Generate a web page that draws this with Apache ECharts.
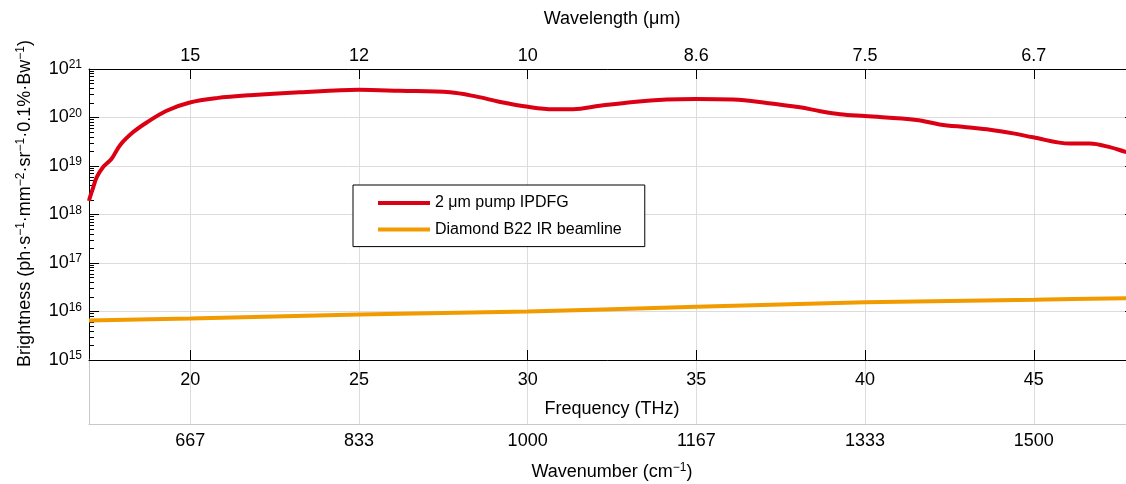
<!DOCTYPE html>
<html>
<head>
<meta charset="utf-8">
<script src="https://cdn.jsdelivr.net/npm/echarts@6/dist/echarts.min.js"></script>
<style>
html,body{margin:0;padding:0;background:#fff;}
#chart{width:1126px;height:484px;}
</style>
</head>
<body>
<div id="chart"></div>
<script>
// ---- data ----
const freqTicks = [20, 25, 30, 35, 40, 45];
const wavelengthLabels = ['15', '12', '10', '8.6', '7.5', '6.7'];
const wavenumberLabels = ['667', '833', '1000', '1167', '1333', '1500'];
const yExponents = [15, 16, 17, 18, 19, 20, 21];

const ipdfgFreq = [17.0, 17.03, 17.13, 17.23, 17.42, 17.67, 17.92, 18.31, 18.71, 19.3, 19.99, 20.78, 21.77, 23.25, 25.0, 26.21, 27.7, 28.49, 29.19, 30.01, 30.76, 31.35, 32.14, 33.13, 34.12, 34.99, 36.09, 37.08, 38.07, 38.67, 39.26, 39.99, 41.52, 42.21, 43.0, 43.7, 44.39, 44.98, 46.07, 46.66, 47.25, 47.73, 48.0];
const ipdfgBrightness = [1.91e18, 2.29e18, 3.72e18, 5.89e18, 9.55e18, 1.41e19, 2.69e19, 5.0e19, 7.9e19, 1.38e20, 2.04e20, 2.51e20, 2.88e20, 3.31e20, 3.72e20, 3.55e20, 3.31e20, 2.69e20, 2.09e20, 1.66e20, 1.48e20, 1.48e20, 1.74e20, 2.09e20, 2.34e20, 2.4e20, 2.34e20, 2.0e20, 1.62e20, 1.35e20, 1.17e20, 1.07e20, 8.9e19, 7.2e19, 6.3e19, 5.6e19, 4.7e19, 3.9e19, 2.9e19, 2.9e19, 2.45e19, 1.95e19, 1.74e19];

const b22Freq = [17, 20, 25, 30, 35, 40, 45, 48];
const b22Brightness = [6.5e15, 7.2e15, 8.7e15, 1.0e16, 1.25e16, 1.55e16, 1.75e16, 1.9e16];

const seriesNames = ['2 \u03bcm pump IPDFG', 'Diamond B22 IR beamline'];

// ---- derived ----
const yMinor = [];
for (let e = 15; e < 21; e++) for (let m = 2; m <= 9; m++) yMinor.push(m * Math.pow(10, e));

const FONT = '"Liberation Sans", Arial, sans-serif';
const FS = 18;
const GRID_C = '#dcdcdc';
const BOX_C = '#c8c8c8';
const xMin = 17, xMax = 48;

const chart = echarts.init(document.getElementById('chart'), null, {renderer: 'canvas'});

const supRich = {
  s: {fontSize: 12, fontFamily: FONT, color: '#000', verticalAlign: 'top', lineHeight: 12},
  b: {fontSize: FS, fontFamily: FONT, color: '#000', lineHeight: 20},
  pad: {width: 22, fontSize: FS, lineHeight: 20}
};

const option = {
  animation: false,
  backgroundColor: '#fff',
  grid: [
    {left: 89, width: 1046, top: 69, height: 291, containLabel: false, outerBoundsMode: 'none'},
    {left: 89, width: 1046, top: 360, height: 64, containLabel: false, outerBoundsMode: 'none'}
  ],
  legend: {
    data: seriesNames,
    orient: 'vertical',
    left: 353,
    top: 185,
    backgroundColor: '#fff',
    borderColor: '#000',
    borderWidth: 1,
    borderRadius: 0,
    padding: [10, 23, 9, 25],
    itemWidth: 52,
    itemHeight: 4,
    itemGap: 10.6,
    icon: 'rect',
    textStyle: {fontFamily: FONT, fontSize: 16, color: '#000', lineHeight: 16}
  },
  xAxis: [
    {
      type: 'value', gridIndex: 0, position: 'bottom', min: xMin, max: xMax,
      axisLine: {show: true, lineStyle: {color: '#000', width: 1}},
      axisTick: {show: true, inside: true, length: 10, customValues: freqTicks, lineStyle: {color: '#000'}},
      axisLabel: {show: true, customValues: freqTicks, margin: 11, color: '#000', fontFamily: FONT, fontSize: FS},
      splitLine: {show: true, lineStyle: {color: GRID_C, width: 1}},
      name: 'Frequency (THz)', nameLocation: 'middle', nameGap: 40, nameMoveOverlap: false,
      nameTextStyle: {color: '#000', fontFamily: FONT, fontSize: FS}
    },
    {
      type: 'value', gridIndex: 0, position: 'top', min: xMin, max: xMax,
      axisLine: {show: true, lineStyle: {color: '#000', width: 1}},
      axisTick: {show: true, inside: true, length: 10, customValues: freqTicks, lineStyle: {color: '#000'}},
      axisLabel: {show: true, customValues: freqTicks, margin: 4, color: '#000', fontFamily: FONT, fontSize: FS,
        formatter: v => wavelengthLabels[freqTicks.indexOf(v)]},
      splitLine: {show: false},
      name: 'Wavelength (\u03bcm)', nameLocation: 'middle', nameGap: 41, nameMoveOverlap: false,
      nameTextStyle: {color: '#000', fontFamily: FONT, fontSize: FS}
    },
    {
      type: 'value', gridIndex: 1, position: 'bottom', min: xMin, max: xMax,
      axisLine: {show: true, lineStyle: {color: BOX_C, width: 1}},
      axisTick: {show: false, customValues: freqTicks},
      axisLabel: {show: true, customValues: freqTicks, margin: 8, color: '#000', fontFamily: FONT, fontSize: FS,
        formatter: v => wavenumberLabels[freqTicks.indexOf(v)]},
      splitLine: {show: true, lineStyle: {color: GRID_C, width: 1}},
      name: '{b|Wavenumber (cm}{s|\u22121}{b|)}', nameLocation: 'middle', nameGap: 38, nameMoveOverlap: false,
      nameTextStyle: {color: '#000', fontFamily: FONT, fontSize: FS, rich: supRich}
    }
  ],
  yAxis: [
    {
      type: 'log', gridIndex: 0, position: 'left', min: 1e15, max: 1e21, logBase: 10, splitNumber: 6,
      axisLine: {show: true, lineStyle: {color: '#000', width: 1}},
      axisTick: {show: true, inside: true, length: 10, lineStyle: {color: '#000'}},
      axisLabel: {show: true, margin: 7, color: '#000', showMinLabel: true, showMaxLabel: true,
        formatter: v => '{b|10}{s|' + Math.round(Math.log10(v)) + '}', rich: supRich},
      splitLine: {show: true, lineStyle: {color: GRID_C, width: 1}},
      name: '{pad| }{b|Brightness (ph\u00b7s}{s|\u22121}{b|\u00b7mm}{s|\u22122}{b|\u00b7sr}{s|\u22121}{b|\u00b70.1%\u00b7Bw}{s|\u22121}{b|)}',
      nameLocation: 'middle', nameGap: 54, nameMoveOverlap: false,
      nameTextStyle: {color: '#000', fontFamily: FONT, fontSize: FS, rich: supRich}
    },
    {
      type: 'log', gridIndex: 0, position: 'left', min: 1e15, max: 1e21, logBase: 10,
      axisLine: {show: false},
      axisTick: {show: true, inside: true, length: 5, customValues: yMinor, lineStyle: {color: '#000'}},
      axisLabel: {show: false},
      splitLine: {show: false}
    },
    {
      type: 'log', gridIndex: 0, position: 'right', min: 1e15, max: 1e21, logBase: 10, splitNumber: 6,
      axisLine: {show: true, lineStyle: {color: '#000', width: 1}},
      axisTick: {show: true, inside: true, length: 10, lineStyle: {color: '#000'}},
      axisLabel: {show: false},
      splitLine: {show: false}
    },
    {
      type: 'value', gridIndex: 1, position: 'left', min: 0, max: 1,
      axisLine: {show: true, lineStyle: {color: BOX_C, width: 1}},
      axisTick: {show: false},
      axisLabel: {show: false},
      splitLine: {show: false}
    }
  ],
  series: [
    {
      name: seriesNames[0], type: 'line', xAxisIndex: 0, yAxisIndex: 0,
      data: ipdfgFreq.map((f, i) => [f, ipdfgBrightness[i]]),
      showSymbol: false, symbol: 'none', smooth: 0.35,
      lineStyle: {color: '#dc0014', width: 4},
      itemStyle: {color: '#dc0014'}
    },
    {
      name: seriesNames[1], type: 'line', xAxisIndex: 0, yAxisIndex: 0,
      data: b22Freq.map((f, i) => [f, b22Brightness[i]]),
      showSymbol: false, symbol: 'none', smooth: 0.35,
      lineStyle: {color: '#f29b00', width: 4},
      itemStyle: {color: '#f29b00'}
    }
  ]
};
chart.setOption(option);
</script>
</body>
</html>
